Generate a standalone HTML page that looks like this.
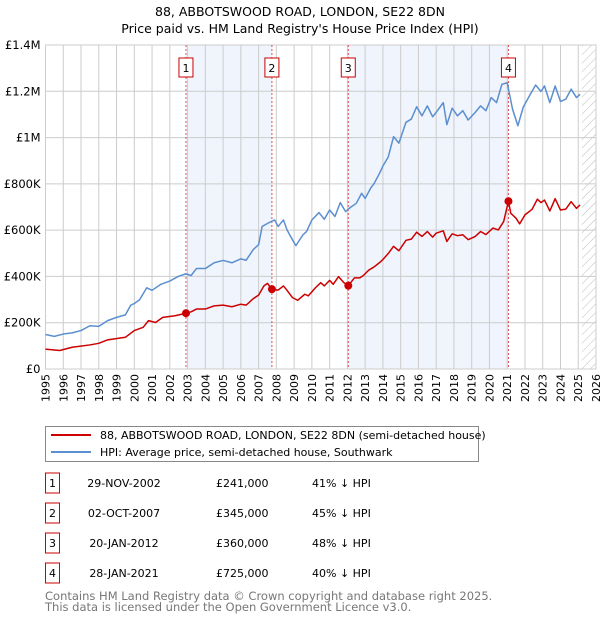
<!DOCTYPE html>
<html><head><meta charset="utf-8"><style>
body{margin:0;background:#fff;font-family:"Liberation Sans","DejaVu Sans",sans-serif;}
svg text{font-family:"DejaVu Sans","Liberation Sans",sans-serif;}
</style></head><body>
<svg id="chart" width="600" height="620" xmlns="http://www.w3.org/2000/svg">
<text x="300" y="16" text-anchor="middle" font-size="12.5">88, ABBOTSWOOD ROAD, LONDON, SE22 8DN</text>
<text x="300" y="33" text-anchor="middle" font-size="12.5">Price paid vs. HM Land Registry's House Price Index (HPI)</text>
<g id="plot"></g>
<g>
<rect x="45.5" y="426.5" width="433" height="35" fill="#fff" stroke="#888"/>
<line x1="51" y1="435" x2="91" y2="435" stroke="#cc0000" stroke-width="2"/>
<text x="100" y="439" font-size="11">88, ABBOTSWOOD ROAD, LONDON, SE22 8DN (semi-detached house)</text>
<line x1="51" y1="452" x2="91" y2="452" stroke="#5b8fd0" stroke-width="2"/>
<text x="100" y="456" font-size="11">HPI: Average price, semi-detached house, Southwark</text>
</g>
<g id="table" font-size="11"></g>
<text x="45" y="600" font-size="11.5" fill="#777">Contains HM Land Registry data © Crown copyright and database right 2025.</text>
<text x="45" y="611" font-size="11.5" fill="#777">This data is licensed under the Open Government Licence v3.0.</text>
</svg>
<script>
const yTicks=[0,200,400,600,800,1000,1200,1400];
const yTickLabels=["£0","£200K","£400K","£600K","£800K","£1M","£1.2M","£1.4M"];
const years=[1995,1996,1997,1998,1999,2000,2001,2002,2003,2004,2005,2006,2007,2008,2009,2010,2011,2012,2013,2014,2015,2016,2017,2018,2019,2020,2021,2022,2023,2024,2025,2026];
const hpiT=[1995,1995.5,1996,1996.5,1997,1997.5,1998,1998.5,1999,1999.5,1999.8,2000,2000.3,2000.7,2001,2001.5,2002,2002.5,2002.9,2003.2,2003.5,2004,2004.5,2005,2005.5,2006,2006.3,2006.7,2007,2007.2,2007.6,2007.9,2008.1,2008.4,2008.6,2008.9,2009.1,2009.5,2009.7,2010,2010.4,2010.7,2011,2011.3,2011.6,2011.9,2012.1,2012.5,2012.8,2013,2013.3,2013.5,2013.8,2014,2014.3,2014.6,2014.9,2015.3,2015.6,2015.9,2016.2,2016.5,2016.8,2017,2017.4,2017.6,2017.9,2018.2,2018.5,2018.8,2019.2,2019.5,2019.8,2020.1,2020.4,2020.7,2021,2021.3,2021.6,2021.9,2022.2,2022.6,2022.9,2023.1,2023.4,2023.7,2024,2024.3,2024.6,2024.9,2025.1];
const hpiV=[149,141,151,156,166,187,184,209,223,234,276,283,299,351,340,366,380,401,411,404,434,434,459,469,459,476,470,516,537,616,633,644,616,644,601,559,533,580,594,644,676,647,687,659,719,680,694,716,759,737,780,801,844,877,916,1004,976,1066,1080,1133,1094,1137,1090,1109,1151,1056,1127,1094,1116,1076,1109,1137,1116,1173,1151,1230,1237,1123,1051,1131,1173,1227,1199,1223,1151,1223,1156,1166,1209,1173,1187];
const priceT=[1995,1995.8,1996.5,1997.5,1998,1998.5,1999.5,2000,2000.5,2000.8,2001.2,2001.6,2002.3,2002.91,2003.2,2003.5,2004,2004.5,2005,2005.5,2006,2006.3,2006.7,2007,2007.3,2007.5,2007.75,2008.1,2008.4,2008.6,2008.9,2009.2,2009.6,2009.8,2010.2,2010.5,2010.7,2011,2011.2,2011.5,2011.8,2012.05,2012.4,2012.7,2012.9,2013.2,2013.5,2013.8,2014,2014.3,2014.6,2014.9,2015.3,2015.6,2015.9,2016.2,2016.5,2016.8,2017,2017.4,2017.6,2017.9,2018.2,2018.5,2018.8,2019.2,2019.5,2019.8,2020.2,2020.5,2020.8,2021.07,2021.2,2021.5,2021.7,2022,2022.4,2022.7,2022.9,2023.1,2023.4,2023.7,2024,2024.3,2024.6,2024.9,2025.1];
const priceV=[86,80,94,104,111,126,137,166,180,209,201,223,230,241,247,259,259,273,276,269,280,276,304,319,359,370,344,341,359,340,309,297,323,316,351,373,359,383,366,399,373,360,394,394,404,427,441,459,473,499,530,511,556,561,591,573,594,570,587,597,551,584,576,580,559,573,594,581,609,601,637,725,673,651,627,666,690,734,719,730,683,736,687,691,723,694,709];
const saleT=[2002.91,2007.75,2012.05,2021.07];
const saleV=[241,345,360,725];
const saleLabels=["1","2","3","4"];
const saleDates=["29-NOV-2002","02-OCT-2007","20-JAN-2012","28-JAN-2021"];
const salePrices=["£241,000","£345,000","£360,000","£725,000"];
const saleHpi=["41% ↓ HPI","45% ↓ HPI","48% ↓ HPI","40% ↓ HPI"];

const L=45.5,R=596,T=45,B=369;
const X=t=>L+(t-1995)*(R-L)/31;
const Y=v=>B-v*(B-T)/1400;
const NS="http://www.w3.org/2000/svg";
const plot=document.getElementById('plot');
function mk(tag,attrs,parent){const e=document.createElementNS(NS,tag);for(const k in attrs)e.setAttribute(k,attrs[k]);(parent||plot).appendChild(e);return e;}
for(let i=0;i<saleT.length;i+=2){
 const r=mk('rect',{x:X(saleT[i]),y:T,width:X(saleT[i+1])-X(saleT[i]),height:B-T,fill:'#f0f4fc'});
 
 
}
const defs=mk('defs',{});
const pat=mk('pattern',{id:'hatch',width:6,height:6,patternUnits:'userSpaceOnUse',patternTransform:'rotate(45)'},defs);
mk('line',{x1:0,y1:0,x2:0,y2:6,stroke:'#bbb','stroke-width':1},pat);
const hr=mk('rect',{x:X(2025.2),y:T,width:R-X(2025.2),height:B-T,fill:'url(#hatch)'});


years.forEach(y=>{
 const l=mk('line',{x1:X(y),x2:X(y),y1:T,y2:B,stroke:'#ccc','stroke-width':1});
 
 
 const t=mk('text',{x:0,y:0,'font-size':11,'text-anchor':'end',transform:`translate(${X(y)+4},${B+5}) rotate(-90)`});
 t.textContent=y;
 
 
});
yTicks.forEach((v,i)=>{
 const l=mk('line',{x1:L,x2:R,y1:Y(v),y2:Y(v),stroke:'#ccc','stroke-width':1});
 
 
 const t=mk('text',{x:L-5,y:Y(v)+4,'font-size':11.5,'text-anchor':'end'});
 t.textContent=yTickLabels[i];
 
 
});
mk('rect',{x:L,y:T,width:R-L,height:B-T,fill:'none',stroke:'#ccc'});
saleT.forEach((t,i)=>{
 const l=mk('line',{x1:X(t),x2:X(t),y1:T,y2:B,stroke:'#e05050','stroke-width':1,'stroke-dasharray':'2,2'});
 
 
 const r=mk('rect',{x:X(t)-7,y:58,width:14,height:19,fill:'#fff',stroke:'#cc0000'});
 
 
 const tx=mk('text',{x:X(t),y:72,'font-size':11,'text-anchor':'middle'});
 tx.textContent=saleLabels[i];
 
 
});
function line(ts,vs,col,name){
 const p=mk('polyline',{points:ts.map((t,i)=>X(t)+','+Y(vs[i])).join(' '),fill:'none',stroke:col,'stroke-width':1.5,'stroke-linejoin':'round'});
 
 
}
line(hpiT,hpiV,'#5b8fd0','hpi-line');
line(priceT,priceV,'#cc0000','price-line');
saleT.forEach((t,i)=>{
 const c=mk('circle',{cx:X(t),cy:Y(saleV[i]),r:4,fill:'#cc0000'});
 
 
});
const tb=document.getElementById('table');
const rowC=[483,513,543,573];
saleT.forEach((t,i)=>{
 const y=rowC[i];
 const r=mk('rect',{x:45.5,y:y-10,width:14,height:20,fill:'#fff',stroke:'#cc0000'},tb);
 
 
 const cells=[[52.5,saleLabels[i],'middle'],[124,saleDates[i],'middle'],[216,salePrices[i],'start'],[312,saleHpi[i],'start']];
 cells.forEach(c=>{
  const tx=mk('text',{x:c[0],y:y+4,'text-anchor':c[2]},tb);
  tx.textContent=c[1];
  
  
 });
});
</script>
</body></html>
